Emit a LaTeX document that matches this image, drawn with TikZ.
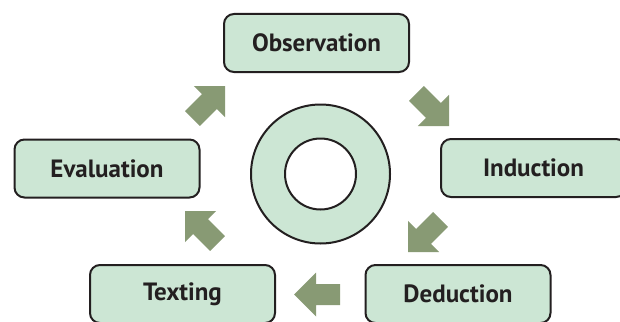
\documentclass[tikz,border=0pt]{standalone}
\usepackage{fontspec}
\setmainfont{PT Sans}
\definecolor{boxfill}{RGB}{204,230,212}
\definecolor{arrowfill}{RGB}{136,154,116}
\definecolor{edge}{RGB}{35,31,32}
\tikzset{
  stagebox/.style={draw=edge, fill=boxfill, line width=2pt, rounded corners=10pt,
    minimum width=185pt, minimum height=58pt, inner sep=0pt,
    font=\bfseries\fontsize{25}{30}\selectfont, text=edge},
  blockarrow/.pic={
    \fill[arrowfill] (0,0) -- (-22,22) -- (-22,10.5) -- (-46,10.5) -- (-46,-10.5)
      -- (-22,-10.5) -- (-22,-22) -- cycle;
  }
}
\begin{document}
\begin{tikzpicture}[x=1pt,y=-1pt]
\clip (0,0) rectangle (620,321);
\fill[white] (0,0) rectangle (620,321);
\node[stagebox] (obs) at (316.5,43) {Observation};
\node[stagebox] (ind) at (533.5,168) {Induction};
\node[stagebox] (eval) at (107,168.5) {Evaluation};
\node[stagebox] (test) at (182.5,294) {Texting};
\node[stagebox] (ded) at (458,294) {Deduction};
\node[circle, draw=edge, fill=boxfill, line width=2pt, minimum size=139pt, inner sep=0pt] (ring) at (320.5,174) {};
\node[circle, draw=edge, fill=white, line width=2pt, minimum size=71pt, inner sep=0pt] (hole) at (ring.center) {};
\pic[rotate=45] (a1) at (225,86) {blockarrow};
\pic[rotate=-45] (a2) at (449,126) {blockarrow};
\pic[rotate=-135] (a3) at (408,252) {blockarrow};
\pic[rotate=180] (a4) at (294,294.5) {blockarrow};
\pic[rotate=135] (a5) at (185,211) {blockarrow};
\end{tikzpicture}
\end{document}
